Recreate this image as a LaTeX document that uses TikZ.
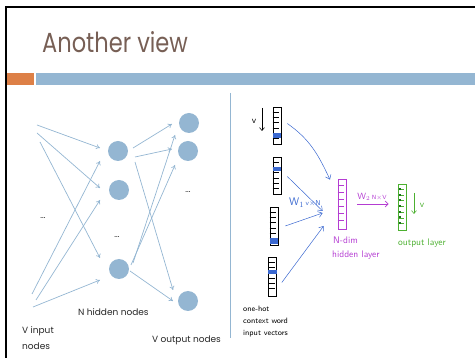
\documentclass[tikz,border=0pt]{standalone}
\usepackage{fontspec}
\newfontfamily\twfont{Poppins}
\usetikzlibrary{arrows.meta}
\definecolor{titlec}{HTML}{775F55}
\definecolor{accblue}{HTML}{94B6D2}
\definecolor{accorange}{HTML}{DD8047}
\definecolor{penblue}{HTML}{3A68D0}
\definecolor{penpurple}{HTML}{B43CD2}
\definecolor{pengreen}{HTML}{4CB030}
\definecolor{markgreen}{HTML}{1E6E1E}
\begin{document}
\begin{tikzpicture}[x=1pt,y=-1pt,
  neuron/.style={circle,fill=accblue,minimum size=20pt,inner sep=0pt},
  netarrow/.style={draw=accblue,line width=0.7pt,-{To[length=4pt,width=5pt]}},
  lbl/.style={font=\twfont\fontsize{9}{10}\selectfont,text=black!85,inner sep=0pt,anchor=base west},
  dots/.style={font=\twfont\fontsize{8}{9}\selectfont,inner sep=0pt},
  vecbox/.style={draw=black,line width=0.6pt,minimum width=8pt,inner sep=0pt},
  hand/.style={font=\sffamily\fontsize{9.5}{10}\selectfont,inner sep=0pt},
  penarrow/.style={draw=penblue,line width=0.5pt,-{Straight Barb[length=4pt,width=6pt]}}
]
\useasboundingbox (0,0) rectangle (475,358);
% slide frame
\draw[line width=2pt,black] (6,358) -- (6,7) -- (475,7);
% title
\node[anchor=base west,inner sep=0pt,text=titlec,font=\twfont\fontsize{23}{27}\selectfont] (title) at (42,53) {\scalebox{0.98}[1.2]{Another view}};
% bars
\fill[accorange] (7,73) rectangle (34,85);
\fill[accblue] (36,73) rectangle (475,85);
% divider
\draw[accblue,line width=0.8pt] (230,93) -- (230,338);

% left network
\node[neuron] (h1) at (118,151) {};
\node[neuron] (h2) at (119,190) {};
\node[neuron] (h3) at (119,269) {};
\node[neuron] (o1) at (189,123) {};
\node[neuron] (o2) at (188,151) {};
\node[neuron] (o3) at (188,301) {};
\node[dots] (d1) at (43,218) {...};
\node[dots] (d2) at (117,237) {...};
\node[dots] (d3) at (188,192) {...};
\coordinate (i1) at (37,125);
\coordinate (i2) at (37,133);
\coordinate (i3) at (40,142);
\coordinate (i4) at (32,294);
\coordinate (i5) at (36,300);
\coordinate (i6) at (33,307);
\draw[netarrow] (i1) -- ([xshift=-18pt,yshift=3pt]h1.center);
\draw[netarrow] (i2) -- ([xshift=-19pt,yshift=2pt]h2.center);
\draw[netarrow] (i3) -- ([xshift=-19pt,yshift=11pt]h3.center);
\draw[netarrow] (i4) -- ([xshift=-18pt,yshift=-10pt]h1.center);
\draw[netarrow] (i5) -- ([xshift=-19pt,yshift=-10pt]h2.center);
\draw[netarrow] (i6) -- ([xshift=-19pt,yshift=-11pt]h3.center);
\draw[netarrow] ([xshift=15pt,yshift=3pt]h1.center) -- ([xshift=-17pt,yshift=-1pt]o1.center);
\draw[netarrow] ([xshift=17pt,yshift=-6pt]h1.center) -- ([xshift=-16pt,yshift=2pt]o2.center);
\draw[netarrow] ([xshift=17pt,yshift=-11pt]h1.center) -- ([xshift=-15pt,yshift=11pt]o3.center);
\draw[netarrow] ([xshift=14pt,yshift=6pt]h3.center) -- ([xshift=-14pt,yshift=-12pt]o1.center);
\draw[netarrow] ([xshift=12pt,yshift=4pt]h3.center) -- ([xshift=-13pt,yshift=-14pt]o2.center);
\draw[netarrow] ([xshift=11pt,yshift=-2pt]h3.center) -- ([xshift=-15pt,yshift=0pt]o3.center);
\node[lbl] (nh) at (78,316) {N hidden nodes};
\node[lbl] (vin1) at (22,334) {V input};
\node[lbl] (vin2) at (22,350) {nodes};
\node[lbl] (vout) at (152,343) {V output nodes};

% right side: one-hot input vectors
\node[vecbox,minimum height=37pt] (v1) at (277,125.5) {};
\node[vecbox,minimum height=37pt] (v2) at (277,175.5) {};
\node[vecbox,minimum height=38pt] (v3) at (274,226) {};
\node[vecbox,minimum height=39pt] (v4) at (272.5,276.5) {};
\foreach \v in {v1,v2,v3,v4}{
  \foreach \k in {1,...,6}{
    \draw[line width=0.45pt] ([yshift=-\k*5.3pt]\v.north west) -- ([yshift=-\k*5.3pt,xshift=-2pt]\v.north east);
  }
}
\fill[penblue] ([yshift=-26.5pt]v1.north west) rectangle ([yshift=-31.8pt]v1.north east);
\fill[penblue] ([yshift=-10.6pt]v2.north west) rectangle ([yshift=-14pt]v2.north east);
\fill[penblue] ([yshift=-31.8pt]v3.north west) rectangle ([yshift=-37pt]v3.north east);
\fill[penblue] ([yshift=-13pt]v4.north west) rectangle ([yshift=-17pt]v4.north east);
\node[hand] (vlab) at (254,121) {v};
\coordinate (va) at (262,108);
\coordinate (vb) at (262,131);
\draw[line width=0.6pt,-{Straight Barb[length=3pt,width=5pt]}] (va) -- (vb);
\node[hand,anchor=west,align=left,font=\sffamily\fontsize{7.8}{12}\selectfont] (ctx) at (243,322) {one-hot\\context word\\input vectors};

% hidden layer
\node[draw=penpurple,line width=0.7pt,minimum width=8pt,minimum height=50pt,inner sep=0pt] (hid) at (342,204) {};
\foreach \k in {1,...,6}{
  \draw[penpurple,line width=0.5pt] ([yshift=-\k*7pt]hid.north west) -- ([yshift=-\k*7pt,xshift=-2pt]hid.north east);
}
% arrows into hidden layer
\draw[penarrow] ([xshift=6pt,yshift=2pt]v1.east) to[out=-35,in=115] ([xshift=-12pt,yshift=-1pt]hid.north);
\draw[penarrow] ([xshift=6pt,yshift=-1pt]v2.east) -- ([xshift=-15pt,yshift=-7pt]hid.west);
\draw[penarrow] ([xshift=7pt,yshift=0pt]v3.east) -- ([xshift=-15pt,yshift=-9pt]hid.west);
\draw[penarrow] ([xshift=5pt,yshift=-6pt]v4.east) -- ([xshift=-14pt,yshift=-22pt]hid.west);
\node[hand,text=penblue,anchor=base west] (w1) at (289,206) {{\fontsize{11}{12}\selectfont W$_1$}\,{\fontsize{7}{7}\selectfont v$\times$N}};
\node[hand,text=penpurple,anchor=base west,align=left] (hidlab) at (333,244) {N-dim};
\node[hand,text=penpurple,anchor=base west] (hidlab2) at (332,258) {hidden layer};

% output layer
\node[draw=pengreen,line width=0.7pt,minimum width=8pt,minimum height=46pt,inner sep=0pt] (out) at (402,207) {};
\foreach \k in {1,...,7}{
  \draw[pengreen,line width=0.5pt] ([yshift=-\k*5.7pt]out.north west) -- ([yshift=-\k*5.7pt,xshift=-2pt]out.north east);
  \fill[markgreen] ([xshift=1pt,yshift=-\k*5.7pt+1.5pt]out.north west) rectangle ([xshift=3pt,yshift=-\k*5.7pt-0.5pt]out.north west);
}
\draw[penpurple,line width=0.7pt,-{Straight Barb[length=3pt,width=6pt]}] ([xshift=11pt]hid.east) -- ([xshift=-9pt]out.west |- hid.east);
\node[hand,text=penpurple,anchor=base] (w2) at (372,200) {{\fontsize{9}{9}\selectfont W$_2$}\,{\fontsize{6}{6}\selectfont N$\times$V}};
\coordinate (ga) at (414,193);
\coordinate (gb) at (414,214);
\draw[pengreen,line width=0.6pt,-{Straight Barb[length=3pt,width=5pt]}] (ga) -- (gb);
\node[hand,text=pengreen] (glab) at (422,205) {v};
\node[hand,text=pengreen,anchor=base west] (outlab) at (398,246) {output layer};
\end{tikzpicture}
\end{document}
